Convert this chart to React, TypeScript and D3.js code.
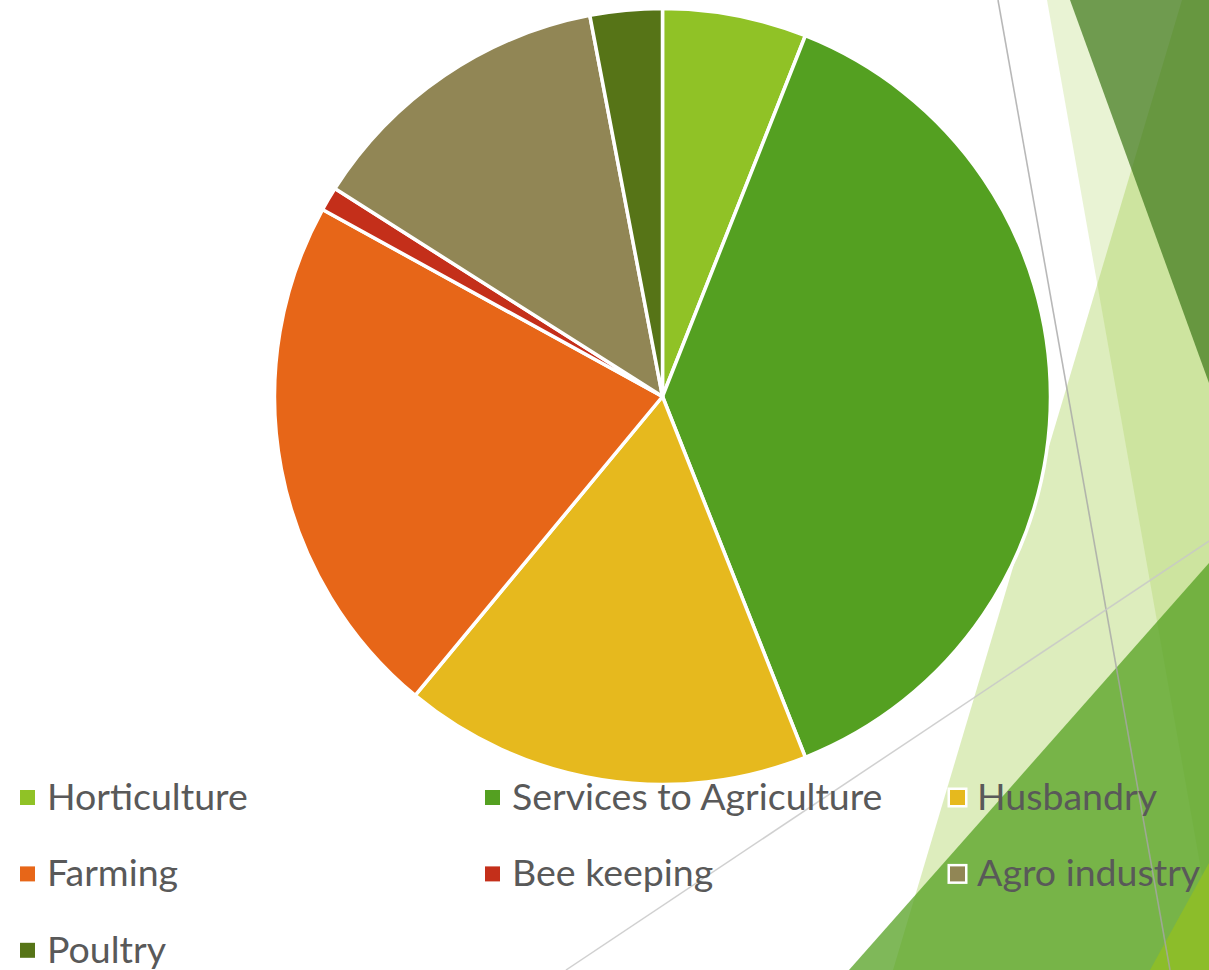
import React from "react";
import * as d3 from "d3";

const categories = ["Horticulture", "Services to Agriculture", "Husbandry", "Farming", "Bee keeping", "Agro industry", "Poultry"];
const values = [6, 38, 17, 22, 1, 13, 3];
const colors = ["#90C226", "#54A021", "#E6B91E", "#E76618", "#C42F1A", "#918655", "#567417"];

const W = 1209;
const H = 970;

export default function App() {
  const cx = 662.5;
  const cy = 396.5;
  const r = 388;

  const pie = d3.pie<number>().sort(null).value((d) => d).startAngle(0).endAngle(2 * Math.PI);
  const arcs = pie(values);
  const arc = d3.arc<d3.PieArcDatum<number>>().innerRadius(0).outerRadius(r);

  const colX = d3.scaleLinear().domain([0, 1]).range([20, 485]);
  const rowY = d3.scaleLinear().domain([0, 1]).range([790, 866.4]);

  // decorative theme shapes (slide background)
  const line = d3.line();
  const P1: [number, number][] = [[1047, 0], [1209, 0], [1209, 915]];
  const P2: [number, number][] = [[1182, 0], [1209, 0], [1209, 970], [893, 970]];
  const D: [number, number][] = [[1070, 0], [1209, 0], [1209, 383]];
  const M: [number, number][] = [[849, 970], [1209, 563], [1209, 970]];
  const Y: [number, number][] = [[1150, 970], [1209, 863], [1209, 970]];

  return (
    <svg
      width={W}
      height={H}
      style={{ position: "absolute", left: 0, top: 0, background: "#ffffff" }}
      fontFamily="Lato, 'Open Sans', sans-serif"
    >
      <rect x={0} y={0} width={W} height={H} fill="#ffffff" />
      <g>
        <path d={line(P1) + "Z"} fill="#90C226" fillOpacity={0.2} />
        <path d={line(P2) + "Z"} fill="#90C226" fillOpacity={0.3} />
        <path d={line(D) + "Z"} fill="#40781c" fillOpacity={0.72} />
        <path d={line(M) + "Z"} fill="#54A021" fillOpacity={0.75} />
        <path d={line(Y) + "Z"} fill="#8cbd2a" />
        <path d={line([[998, 0], [1170, 970]]) ?? ""} stroke="#a6a6a6" strokeOpacity={0.8} strokeWidth={1.6} fill="none" />
        <path d={line([[566, 970], [1209, 541]]) ?? ""} stroke="#c8c8c8" strokeOpacity={0.85} strokeWidth={1.5} fill="none" />
      </g>
      <g transform={`translate(${cx},${cy})`}>
        {arcs.map((a, i) => (
          <path key={categories[i]} d={arc(a) ?? ""} fill={colors[i]} stroke="#ffffff" strokeWidth={3.5} strokeLinejoin="round" />
        ))}
      </g>
      <g>
        {categories.map((c, i) => {
          const col = i % 3;
          const row = Math.floor(i / 3);
          const x = colX(col);
          const y = rowY(row);
          return (
            <g key={c} transform={`translate(${x},${y})`}>
              <rect x={-1.25} y={-1.25} width={17.5} height={17.5} fill={colors[i]} stroke="#ffffff" strokeWidth={2.5} />
              <text x={27} y={20} fontSize={37.5} fill="#595959">
                {c}
              </text>
            </g>
          );
        })}
      </g>
    </svg>
  );
}
